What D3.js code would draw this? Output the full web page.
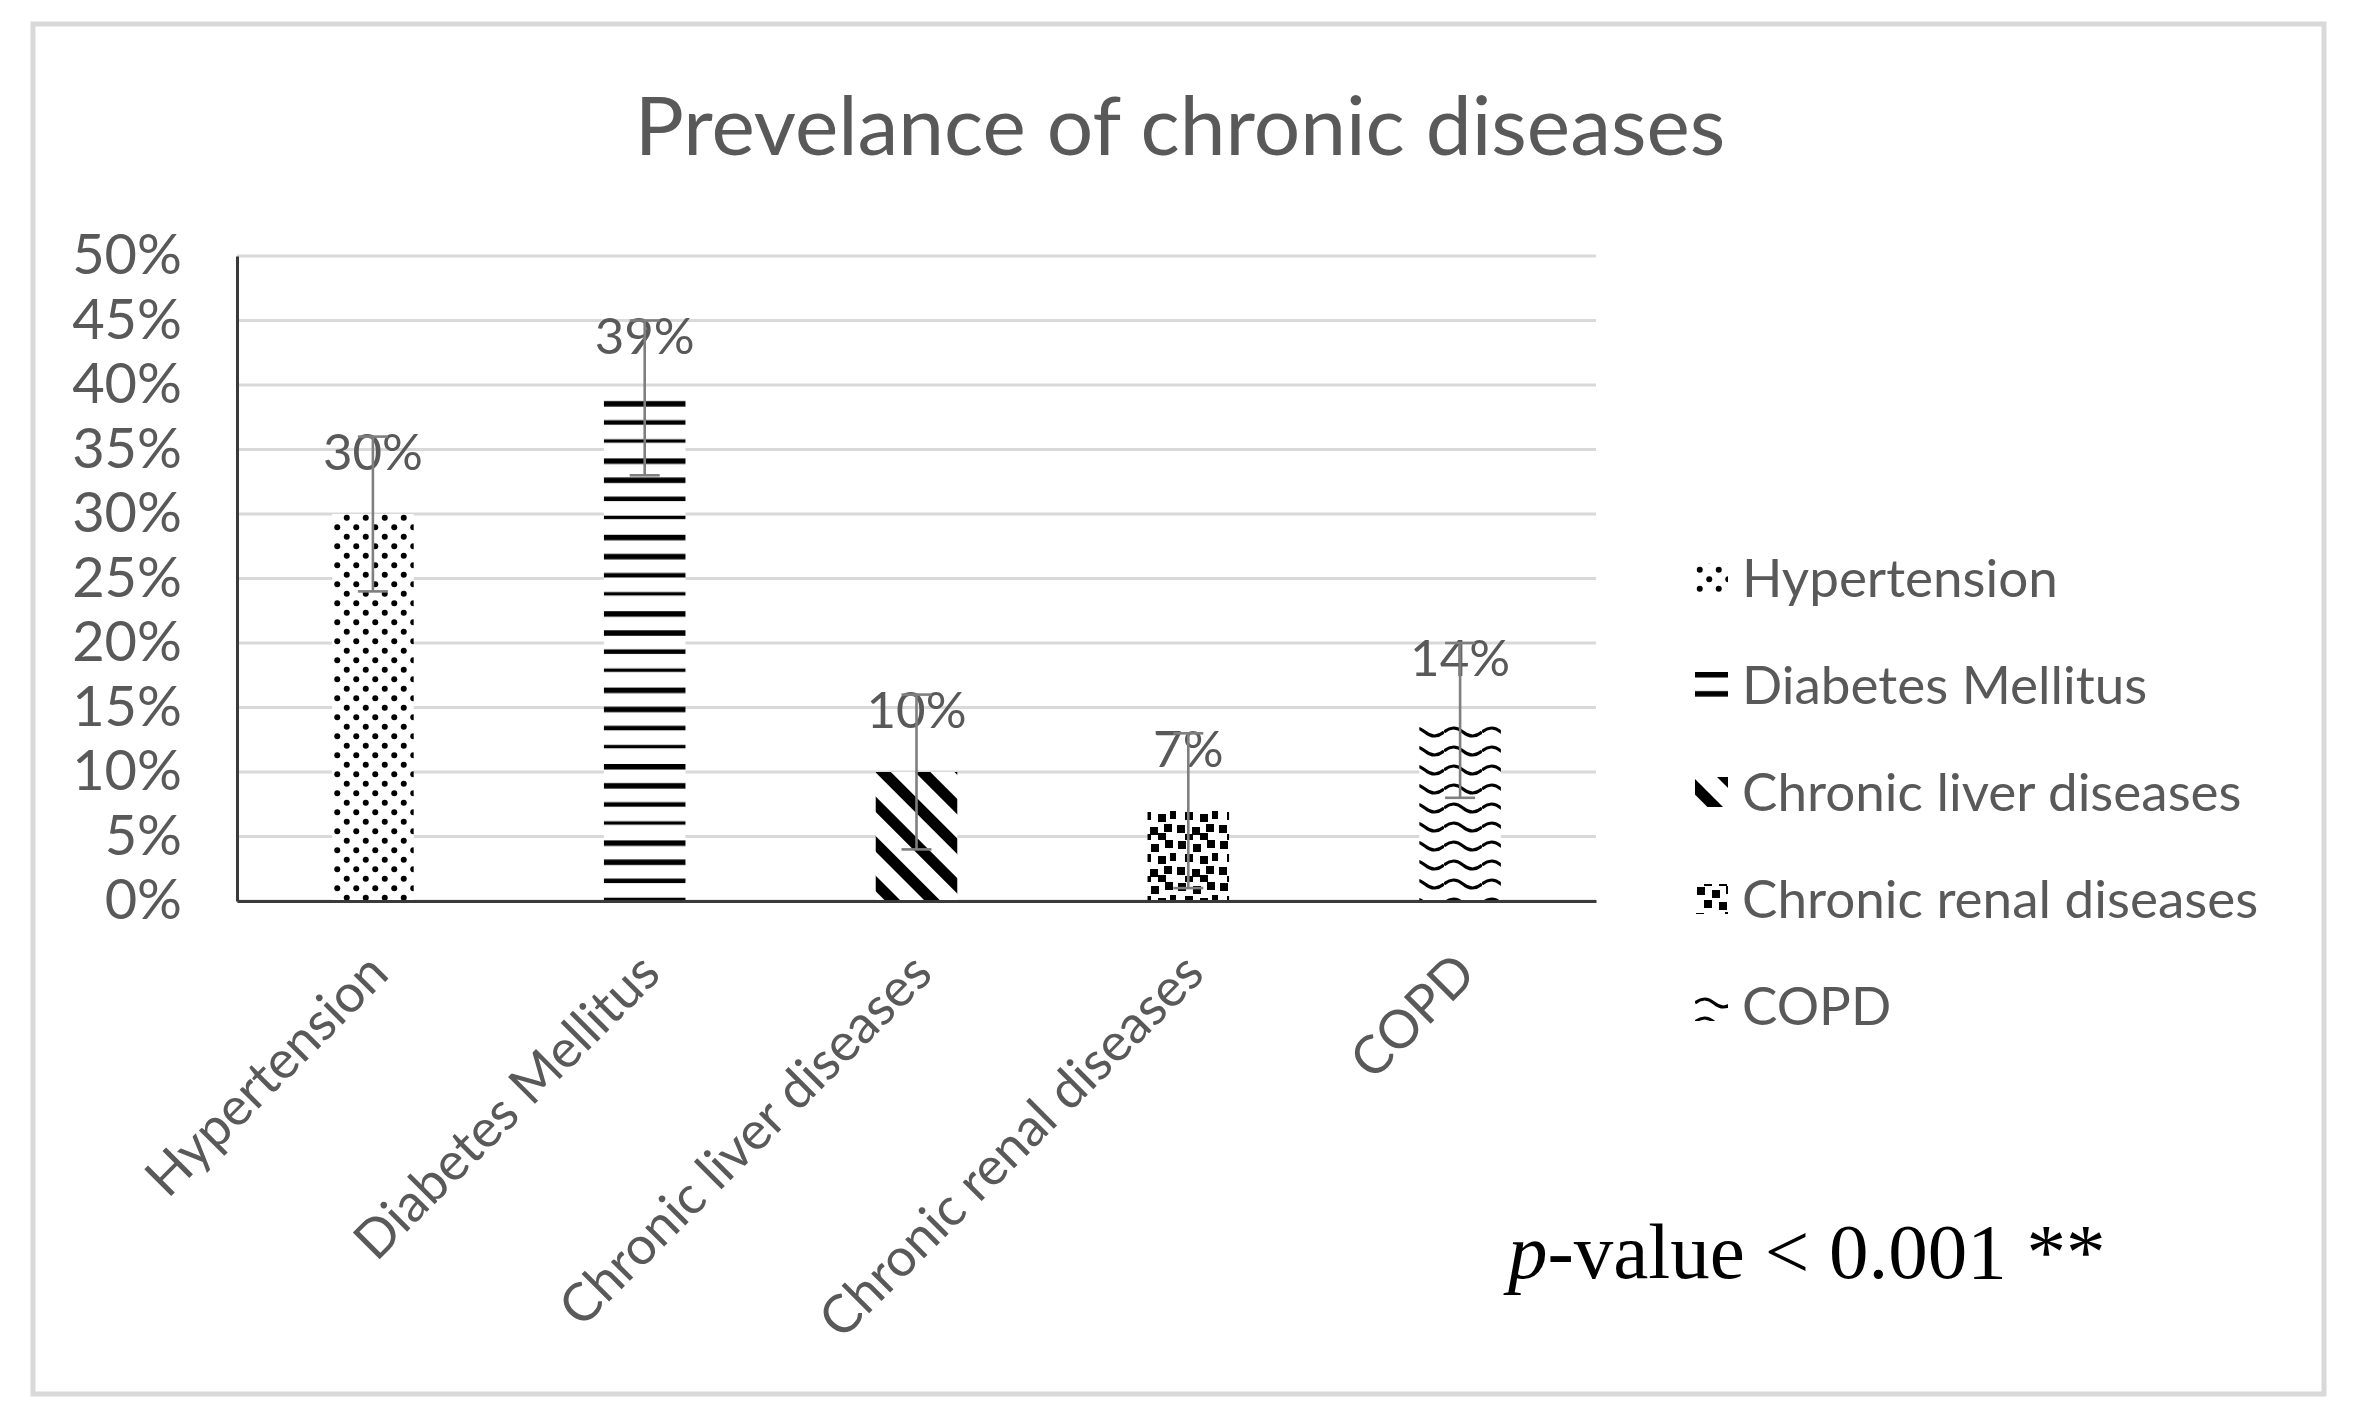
<!DOCTYPE html>
<html>
<head>
<meta charset="utf-8">
<script src="https://cdn.jsdelivr.net/npm/d3@7"></script>
<style>
  body { margin: 0; background: #fff; }
  text { font-family: Lato, "Open Sans", sans-serif; }
</style>
</head>
<body>
<div class="container"></div>
<script>
// chart data
var categories = ["Hypertension", "Diabetes Mellitus", "Chronic liver diseases", "Chronic renal diseases", "COPD"];
var values = [0.30, 0.39, 0.10, 0.07, 0.14];
var errors = [0.06, 0.06, 0.06, 0.06, 0.06];
var yTicks = [0, 0.05, 0.10, 0.15, 0.20, 0.25, 0.30, 0.35, 0.40, 0.45, 0.50];
var patternIds = ["dots", "hlines", "diag", "confetti", "wave"];

var width = 2356, height = 1420;
var plot = {left: 237, right: 1596, top: 256, bottom: 901};
var grey = "#595959";

var svg = d3.select(".container")
    .append("svg")
    .attr("width", width)
    .attr("height", height);

svg.append("rect").attr("width", width).attr("height", height).attr("fill", "#fff");

// outer chart border
svg.append("rect")
    .attr("x", 33).attr("y", 24)
    .attr("width", 2291).attr("height", 1370)
    .attr("fill", "none")
    .attr("stroke", "#d9d9d9")
    .attr("stroke-width", 5);

// pattern fills, black on white like the excel ones
var defs = svg.append("defs");

var p = defs.append("pattern").attr("id", "dots")
    .attr("patternUnits", "userSpaceOnUse").attr("width", 19).attr("height", 19);
p.append("rect").attr("width", 19).attr("height", 19).attr("fill", "#fff");
[[4.75, 4.75], [14.25, 14.25]].forEach(function(c) {
    p.append("circle").attr("cx", c[0]).attr("cy", c[1]).attr("r", 3).attr("fill", "#000");
});

p = defs.append("pattern").attr("id", "hlines")
    .attr("patternUnits", "userSpaceOnUse").attr("width", 20).attr("height", 76.4);
p.append("rect").attr("width", 20).attr("height", 76.4).attr("fill", "#fff");
[[0, 5.5], [19.1, 5.5], [38.2, 4.5], [57.3, 3.4]].forEach(function(l) {
    p.append("rect").attr("x", 0).attr("y", l[0]).attr("width", 20).attr("height", l[1]).attr("fill", "#000");
});

p = defs.append("pattern").attr("id", "diag")
    .attr("patternUnits", "userSpaceOnUse").attr("width", 28).attr("height", 28)
    .attr("patternTransform", "rotate(45)");
p.append("rect").attr("width", 28).attr("height", 28).attr("fill", "#fff");
p.append("rect").attr("x", 0).attr("y", 0).attr("width", 28).attr("height", 11).attr("fill", "#000");

p = defs.append("pattern").attr("id", "confetti")
    .attr("patternUnits", "userSpaceOnUse").attr("width", 42).attr("height", 42);
p.append("rect").attr("width", 42).attr("height", 42).attr("fill", "#fff");
[[2, 1], [17, 4], [31, 0], [9, 14], [24, 16], [36, 13], [1, 27], [16, 29], [30, 26], [9, 36], [24, 35]].forEach(function(s) {
    p.append("rect").attr("x", s[0]).attr("y", s[1]).attr("width", 8).attr("height", 8).attr("fill", "#000");
});

p = defs.append("pattern").attr("id", "wave")
    .attr("patternUnits", "userSpaceOnUse").attr("width", 38).attr("height", 19);
p.append("rect").attr("width", 38).attr("height", 19).attr("fill", "#fff");
p.append("path").attr("d", "M0,10 Q9.5,2 19,10 T38,10")
    .attr("fill", "none").attr("stroke", "#000").attr("stroke-width", 3);

// scales
var x = d3.scaleBand()
    .domain(categories)
    .range([plot.left, plot.right])
    .paddingInner(0.7)
    .paddingOuter(0.35);

var y = d3.scaleLinear()
    .domain([0, 0.5])
    .range([plot.bottom, plot.top]);

// title
svg.append("text")
    .attr("x", 1180).attr("y", 155)
    .attr("text-anchor", "middle")
    .attr("fill", grey)
    .style("font-size", "82px")
    .text("Prevelance of chronic diseases");

// gridlines
svg.append("g").selectAll("line")
    .data(yTicks)
    .enter()
    .append("line")
    .attr("x1", plot.left).attr("x2", plot.right)
    .attr("y1", function(d) { return y(d); })
    .attr("y2", function(d) { return y(d); })
    .attr("stroke", "#d9d9d9")
    .attr("stroke-width", 3);

// bars
svg.append("g").selectAll("rect")
    .data(values)
    .enter()
    .append("rect")
    .attr("x", function(d, i) { return x(categories[i]); })
    .attr("y", function(d) { return y(d); })
    .attr("width", x.bandwidth())
    .attr("height", function(d) { return y(0) - y(d); })
    .attr("fill", function(d, i) { return "url(#" + patternIds[i] + ")"; });

// y axis
var yAxis = svg.append("g")
    .attr("transform", "translate(" + plot.left + ",0)")
    .call(d3.axisLeft(y).tickValues(yTicks).tickFormat(d3.format(".0%")).tickSize(0).tickPadding(55).tickSizeOuter(0));
yAxis.select(".domain").attr("stroke", "#3a3a3a").attr("stroke-width", 3);
yAxis.selectAll("text").attr("fill", grey).style("font-size", "56px");

// x axis
var xAxis = svg.append("g")
    .attr("transform", "translate(0," + plot.bottom + ")")
    .call(d3.axisBottom(x).tickSize(0).tickSizeOuter(0));
xAxis.select(".domain").attr("stroke", "#3a3a3a").attr("stroke-width", 3);
xAxis.selectAll("text")
    .attr("fill", grey)
    .style("font-size", "53px")
    .attr("text-anchor", "end")
    .attr("x", 0).attr("y", 0).attr("dy", "0.35em")
    .attr("transform", "translate(5,62) rotate(-45)");

// data labels
var pct = d3.format(".0%");
svg.append("g").selectAll("text")
    .data(values)
    .enter()
    .append("text")
    .attr("x", function(d, i) { return x(categories[i]) + x.bandwidth() / 2; })
    .attr("y", function(d) { return y(d) - 44; })
    .attr("text-anchor", "middle")
    .attr("fill", grey)
    .style("font-size", "51px")
    .text(function(d) { return pct(d); });

// error bars
var eb = svg.append("g").attr("stroke", "#7f7f7f").attr("stroke-width", 2.6);
values.forEach(function(v, i) {
    var cx = x(categories[i]) + x.bandwidth() / 2;
    var lo = y(v - errors[i]), hi = y(v + errors[i]);
    eb.append("line").attr("x1", cx).attr("x2", cx).attr("y1", lo).attr("y2", hi);
    eb.append("line").attr("x1", cx - 15).attr("x2", cx + 15).attr("y1", lo).attr("y2", lo);
    eb.append("line").attr("x1", cx - 15).attr("x2", cx + 15).attr("y1", hi).attr("y2", hi);
});

// legend
var legend = svg.append("g").selectAll("g")
    .data(categories)
    .enter()
    .append("g")
    .attr("transform", function(d, i) { return "translate(1695," + (565 + i * 107) + ")"; });
legend.append("rect")
    .attr("x", 0).attr("y", -2)
    .attr("width", 33).attr("height", 30)
    .attr("fill", function(d, i) { return "url(#" + patternIds[i] + ")"; });
legend.append("text")
    .attr("x", 47).attr("y", 13).attr("dy", "0.35em")
    .attr("fill", grey)
    .style("font-size", "53px")
    .text(function(d) { return d; });

// p-value note
var note = svg.append("text")
    .attr("x", 1508).attr("y", 1278)
    .attr("fill", "#000")
    .style("font-family", "'Liberation Serif', 'DejaVu Serif', serif")
    .style("font-size", "79px");
note.append("tspan").style("font-style", "italic").text("p");
note.append("tspan").text("-value < 0.001 **");
</script>
</body>
</html>
